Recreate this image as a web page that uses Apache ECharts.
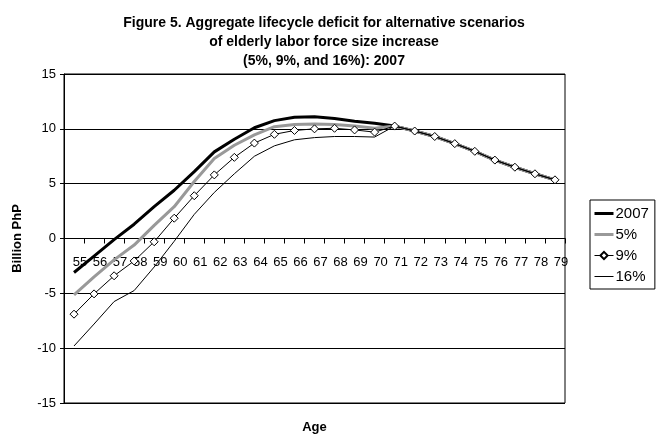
<!DOCTYPE html>
<html>
<head>
<meta charset="utf-8">
<script src="https://cdn.jsdelivr.net/npm/echarts@6/dist/echarts.min.js"></script>
<style>
  html, body { margin: 0; padding: 0; background: #fff; }
  #chart { width: 657px; height: 435px; }
</style>
</head>
<body>
<div id="chart"></div>
<script>
const ages = ['55','56','57','58','59','60','61','62','63','64','65','66','67','68','69','70','71','72','73','74','75','76','77','78','79'];

const base2007 = [-3.1, -1.6, -0.1, 1.3, 2.9, 4.4, 6.1, 7.9, 9.05, 10.1, 10.75, 11.05, 11.1, 10.95, 10.7, 10.5, 10.25, 9.8, 9.3, 8.65, 7.95, 7.15, 6.5, 5.9, 5.35];
const pct5 = [-5.15, -3.5, -1.95, -0.6, 1.2, 2.9, 5.2, 7.3, 8.5, 9.45, 10.2, 10.4, 10.45, 10.4, 10.25, 10.05, 10.25, 9.8, 9.3, 8.65, 7.95, 7.15, 6.5, 5.9, 5.35];
const pct9 = [-6.9, -5.05, -3.4, -2.05, -0.3, 1.85, 3.9, 5.8, 7.4, 8.7, 9.5, 9.85, 10.0, 10.05, 9.9, 9.7, 10.25, 9.8, 9.3, 8.65, 7.95, 7.15, 6.5, 5.9, 5.35];
const pct16 = [-9.8, -7.8, -5.75, -4.75, -2.6, -0.25, 2.2, 4.2, 5.9, 7.5, 8.45, 9.0, 9.2, 9.3, 9.3, 9.25, 10.25, 9.8, 9.3, 8.65, 7.95, 7.15, 6.5, 5.9, 5.35];

const yTicks = { min: -15, max: 15, interval: 5 };

const font = 'Liberation Sans, Arial, sans-serif';
const chart = echarts.init(document.getElementById('chart'), null, { renderer: 'canvas' });

const gridTop = 74, gridBottom = 32, height = 435;
// category axis sits on the zero line (middle of the -15..15 range)
const zeroOffset = -(height - gridTop - gridBottom) / 2;

chart.setOption({
  backgroundColor: '#fff',
  animation: false,
  textStyle: { fontFamily: font, color: '#000' },
  title: {
    text: 'Figure 5. Aggregate lifecycle deficit for alternative scenarios\nof elderly labor force size increase\n(5%, 9%, and 16%): 2007',
    left: 319,
    top: 9,
    textAlign: 'center',
    textStyle: { fontFamily: font, fontSize: 14, fontWeight: 'bold', lineHeight: 19, color: '#000' }
  },
  legend: {
    orient: 'vertical',
    left: 590,
    top: 200,
    padding: [6, 6, 5, 3],
    borderColor: '#000',
    borderWidth: 1,
    itemWidth: 19,
    itemHeight: 9,
    itemGap: 6,
    textStyle: { fontFamily: font, fontSize: 15, color: '#000', padding: [0, 0, 0, -3] },
    data: [
      { name: '2007', itemStyle: { opacity: 0 }, lineStyle: { width: 3 } },
      { name: '5%', itemStyle: { opacity: 0 }, lineStyle: { width: 3 } },
      { name: '9%', lineStyle: { width: 1 } },
      { name: '16%', itemStyle: { opacity: 0 }, lineStyle: { width: 1 } }
    ]
  },
  grid: {
    left: 64, right: 92, top: gridTop, bottom: gridBottom,
    show: true, borderColor: '#000', borderWidth: 1,
    outerBoundsMode: 'none'
  },
  xAxis: {
    type: 'category',
    data: ages,
    boundaryGap: true,
    offset: zeroOffset,
    name: 'Age',
    nameLocation: 'middle',
    nameGap: 182,
    nameTextStyle: { fontFamily: font, fontSize: 13, fontWeight: 'bold', color: '#000' },
    axisLine: { onZero: false, lineStyle: { color: '#000', width: 1 } },
    axisTick: { show: true, length: 5, lineStyle: { color: '#000' } },
    axisLabel: { interval: 0, fontFamily: font, fontSize: 13, color: '#000', margin: 17, padding: [0, 0, 0, 12] },
    splitLine: { show: false }
  },
  yAxis: {
    type: 'value',
    min: yTicks.min, max: yTicks.max, interval: yTicks.interval,
    name: 'Billion PhP',
    nameLocation: 'middle',
    nameGap: 40,
    nameTextStyle: { fontFamily: font, fontSize: 13, fontWeight: 'bold', color: '#000' },
    axisLine: { show: true, lineStyle: { color: '#000', width: 1 } },
    axisTick: { show: true, length: 4, lineStyle: { color: '#000' } },
    axisLabel: { fontFamily: font, fontSize: 13, color: '#000', margin: 8 },
    splitLine: { show: true, lineStyle: { color: '#000', width: 1 } }
  },
  series: [
    {
      name: '2007', type: 'line', data: base2007, symbol: 'none',
      lineStyle: { color: '#000', width: 3 }, itemStyle: { color: '#000' }
    },
    {
      name: '5%', type: 'line', data: pct5, symbol: 'none',
      lineStyle: { color: '#999', width: 3 }, itemStyle: { color: '#999' }
    },
    {
      name: '9%', type: 'line', data: pct9, symbol: 'diamond', symbolSize: 8,
      lineStyle: { color: '#000', width: 1 },
      itemStyle: { color: '#fff', borderColor: '#000', borderWidth: 1 }
    },
    {
      name: '16%', type: 'line', data: pct16, symbol: 'none',
      lineStyle: { color: '#000', width: 1 }, itemStyle: { color: '#000' }
    }
  ]
});
</script>
</body>
</html>
